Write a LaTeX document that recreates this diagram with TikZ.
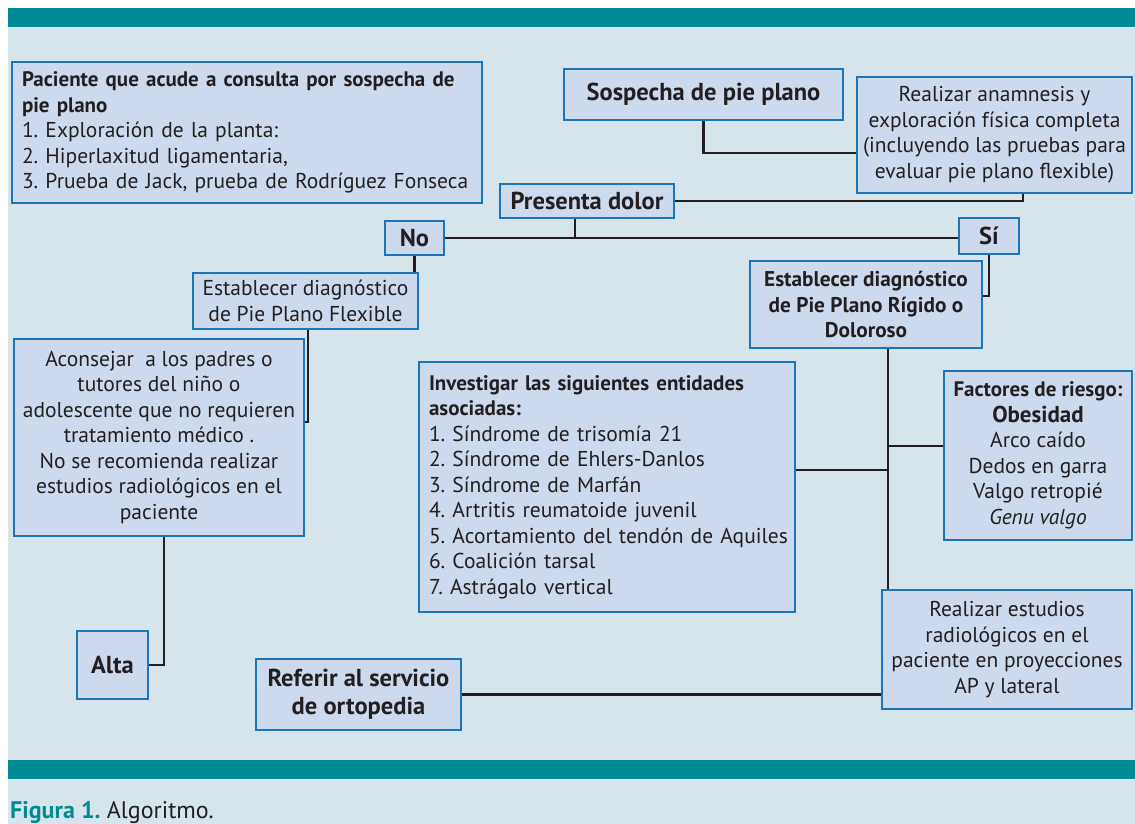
\documentclass[tikz,border=0pt]{standalone}
\usepackage{fontspec}
\setmainfont{PT Sans}
\definecolor{bgc}{HTML}{D6E5EB}
\definecolor{barc}{HTML}{008A94}
\definecolor{boxc}{HTML}{CDD9EC}
\definecolor{bordc}{HTML}{1B75BB}
\definecolor{txtc}{HTML}{231F20}
\newcommand{\bt}[1]{{\fontsize{21}{25.5}\selectfont\bfseries #1}}
\begin{document}
\frenchspacing
\begin{tikzpicture}[x=1pt,y=-1pt,
  box/.style={draw=bordc, fill=boxc, line width=2.6pt, inner sep=0pt, align=center, text=txtc, font=\fontsize{21.5}{25.5}\selectfont},
  hbox/.style={box, font=\fontsize{24.5}{28}\selectfont\bfseries},
  lbox/.style={box, align=left, inner xsep=10pt},
  conn/.style={draw=txtc, line width=2.6pt}]
\useasboundingbox (0,0) rectangle (1135,824);
\fill[white] (0,0) rectangle (1135,824);
\fill[bgc] (8,8) rectangle (1135,824);
\fill[barc] (8,8) rectangle (1135,27);
\fill[barc] (8,760) rectangle (1135,779);

% boxes
\node[lbox, text width=450pt, minimum height=141pt] (pac) at (247,132.5)
 {\bt{Paciente que acude a consulta por sospecha de}\\\bt{pie plano}\\1. Exploración de la planta:\\2. Hiperlaxitud ligamentaria,\\\mbox{3. Prueba de Jack, prueba de Rodríguez Fonseca}};
\node[hbox, minimum width=279pt, minimum height=51pt] (sos) at (703.5,94.5) {Sospecha de pie plano};
\node[box, minimum width=275pt, minimum height=116pt] (ana) at (994.5,135)
 {Realizar anamnesis y\\exploración física completa\\(incluyendo las pruebas para\\evaluar pie plano flexible)};
\node[hbox, minimum width=174pt, minimum height=34pt] (pres) at (587,201) {Presenta dolor};
\node[hbox, minimum width=59pt, minimum height=34pt] (no) at (414.5,238) {No};
\node[hbox, minimum width=60pt, minimum height=36pt] (si) at (989,236) {Sí};
\node[box, minimum width=225pt, minimum height=56pt] (flex) at (305.5,301) {Establecer diagnóstico\\de Pie Plano Flexible};
\node[box, minimum width=232pt, minimum height=87pt, font=\fontsize{21.3}{25.5}\selectfont\bfseries] (rig) at (866,304.5) {Establecer diagnóstico\\de Pie Plano Rígido o\\Doloroso};
\node[box, minimum width=290pt, minimum height=197pt] (acon) at (159,437.5)
 {Aconsejar\ \ a los padres o\\tutores del niño o\\adolescente que no requieren\\tratamiento médico .\\No se recomienda realizar\\estudios radiológicos en el\\paciente};
\node[lbox, text width=356pt, minimum height=250pt, inner xsep=10pt] (inv) at (607,487)
 {\bt{Investigar las siguientes entidades}\\\bt{asociadas:}\\1. Síndrome de trisomía 21\\2. Síndrome de Ehlers-Danlos\\3. Síndrome de Marfán\\4. Artritis reumatoide juvenil\\\mbox{5. Acortamiento del tendón de Aquiles}\\6. Coalición tarsal\\7. Astrágalo vertical};
\node[box, minimum width=188pt, minimum height=169pt] (fac) at (1038,455.5)
 {\bt{Factores de riesgo:}\\{\fontsize{23}{25.5}\selectfont\bfseries Obesidad}\\Arco caído\\Dedos en garra\\Valgo retropié\\\textit{Genu valgo}};
\node[box, minimum width=250pt, minimum height=119pt] (est) at (1007,649.5)
 {Realizar estudios\\radiológicos en el\\paciente en proyecciones\\AP y lateral};
\node[hbox, minimum width=71pt, minimum height=68pt] (alta) at (112.5,665) {Alta};
\node[hbox, minimum width=205pt, minimum height=71pt] (ref) at (358.5,694.5) {Referir al servicio\\de ortopedia};

% connectors
\draw[conn] (sos.south) |- ([yshift=-18pt]ana.west);
\draw[conn] ([xshift=28.5pt]ana.south) |- (pres.east);
\draw[conn] (no.east) -- (no.east -| si.west);
\coordinate (ps) at ([xshift=-12pt]pres.south);
\draw[conn] (ps) -- (ps |- no.east);
\draw[conn] (si.south) |- ([yshift=8.5pt]rig.east);
\draw[conn] (no.south) -- (no.south |- flex.north);
\draw[conn] ([xshift=2.5pt]flex.south) |- ([yshift=15.5pt]acon.east);
\draw[conn] ([xshift=5pt]acon.south) |- (alta.east);
\coordinate (rs) at ([xshift=22pt]rig.south);
\draw[conn] (rs) -- (rs |- est.north);
\coordinate (facin) at ([yshift=9.5pt]fac.west);
\draw[conn] (facin) -- (facin -| rs);
\coordinate (invin) at ([yshift=17pt]inv.east);
\draw[conn] (invin) -- (invin -| rs);
\draw[conn] (ref.east) -- (ref.east -| est.west);

% caption
\node[anchor=base west, inner sep=0pt, font=\fontsize{24}{28}\selectfont, text=txtc] (cap) at (10,818) {\textcolor{barc}{\textbf{Figura 1.}} Algoritmo.};
\end{tikzpicture}
\end{document}
